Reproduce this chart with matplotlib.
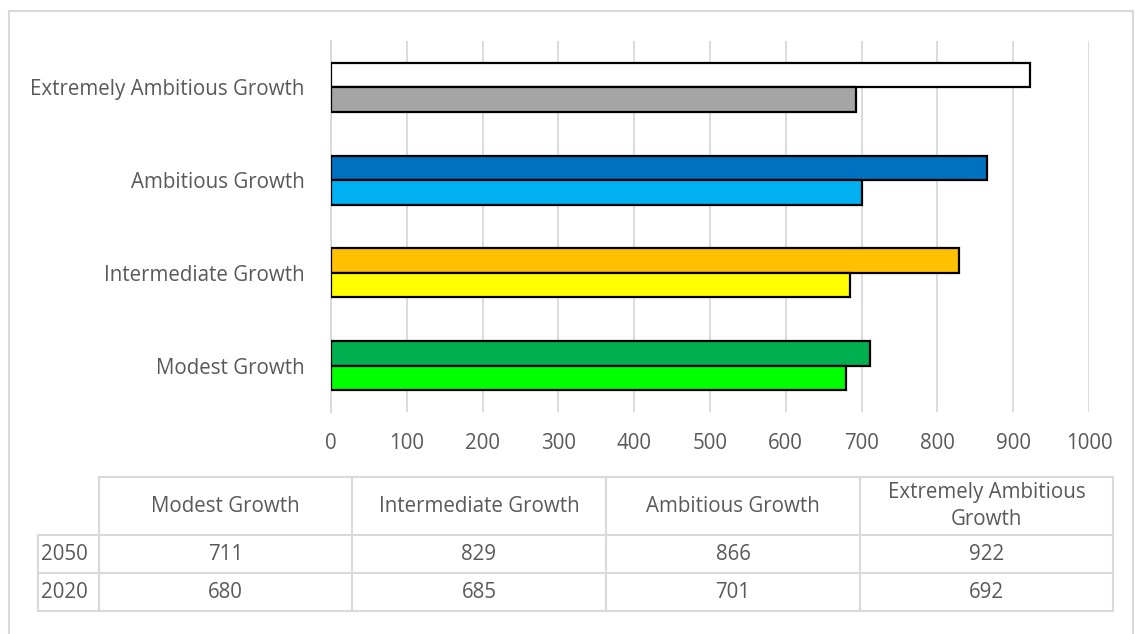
import matplotlib
matplotlib.use("Agg")
import matplotlib.pyplot as plt

plt.rcParams['font.family'] = ['Open Sans', 'DejaVu Sans']

categories = ["Modest Growth", "Intermediate Growth", "Ambitious Growth", "Extremely Ambitious Growth"]
table_headers = ["Modest Growth", "Intermediate Growth", "Ambitious Growth", "Extremely Ambitious\nGrowth"]
years = ["2050", "2020"]
values_2050 = [711, 829, 866, 922]
values_2020 = [680, 685, 701, 692]
colors_2050 = ["#00B050", "#FFC000", "#0070C0", "#FFFFFF"]
colors_2020 = ["#00FF00", "#FFFF00", "#00B0F0", "#A5A5A5"]
x_ticks = list(range(0, 1001, 100))

W, H = 1135, 634
txt = "#595959"
grid = "#D9D9D9"
fs = 14.8

fig = plt.figure(figsize=(W / 100, H / 100), dpi=100)

# background layer in pixel coordinates for the frame and the data table
bg = fig.add_axes([0, 0, 1, 1])
bg.set_xlim(0, W)
bg.set_ylim(H, 0)
bg.axis("off")
bg.plot([9, 9, 1133, 1133], [H + 5, 11, 11, H + 5], color=grid, lw=1.5)

ax = fig.add_axes([331 / W, 1 - 412 / H, (1089 - 331) / W, (412 - 41) / H])
pos = list(range(len(categories)))
h = 0.264
ax.barh([p + h / 2 for p in pos], values_2050, height=h, color=colors_2050,
        edgecolor="black", linewidth=1.6, zorder=3)
ax.barh([p - h / 2 for p in pos], values_2020, height=h, color=colors_2020,
        edgecolor="black", linewidth=1.6, zorder=3)
ax.set_xlim(0, 1000)
ax.set_ylim(-0.5, 3.5)
ax.set_xticks(x_ticks)
ax.set_yticks(pos)
ax.set_yticklabels(categories)
ax.grid(axis="x", color=grid, lw=1.3, zorder=0)
for s in ["top", "right", "bottom"]:
    ax.spines[s].set_visible(False)
ax.spines["left"].set_color(grid)
ax.spines["left"].set_linewidth(1.3)
ax.tick_params(axis="both", length=0, colors=txt, labelsize=fs)
ax.tick_params(axis="x", pad=15)
ax.tick_params(axis="y", pad=19)

# data table under the chart
col_x = [38, 99, 352, 606, 860, 1113]
row_y = [477, 535, 573, 611]
lw = 1.5
bg.plot([col_x[1], col_x[-1]], [row_y[0], row_y[0]], color=grid, lw=lw)
for y in row_y[1:]:
    bg.plot([col_x[0], col_x[-1]], [y, y], color=grid, lw=lw)
bg.plot([col_x[0], col_x[0]], [row_y[1], row_y[-1]], color=grid, lw=lw)
for x in col_x[1:]:
    bg.plot([x, x], [row_y[0], row_y[-1]], color=grid, lw=lw)

for i, head in enumerate(table_headers):
    cx = (col_x[i + 1] + col_x[i + 2]) / 2
    bg.text(cx, (row_y[0] + row_y[1]) / 2, head, ha="center", va="center",
            color=txt, fontsize=fs, linespacing=1.4)
for r, (yr, vals) in enumerate(zip(years, [values_2050, values_2020])):
    cy = (row_y[r + 1] + row_y[r + 2]) / 2
    bg.text(col_x[0] + 3, cy, yr, ha="left", va="center", color=txt, fontsize=fs)
    for i, v in enumerate(vals):
        cx = (col_x[i + 1] + col_x[i + 2]) / 2
        bg.text(cx, cy, str(v), ha="center", va="center", color=txt, fontsize=fs)

fig.savefig("out.png", dpi=100)
